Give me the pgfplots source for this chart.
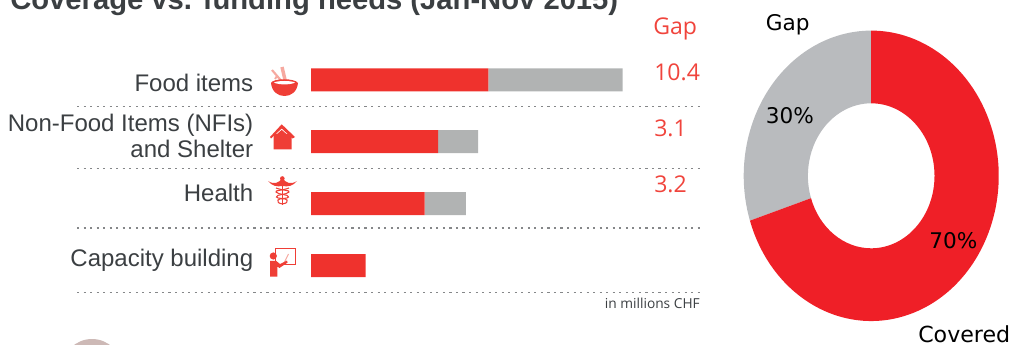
\documentclass[border=0pt]{standalone}
\usepackage{pgfplots}
\pgfplotsset{compat=1.18}
\usepackage{fontspec}
\setmainfont{Liberation Sans}
\newfontfamily\gapfont{Open Sans}
\newfontfamily\donutfont{DejaVu Sans}
\definecolor{barred}{HTML}{EF322D}
\definecolor{bargray}{HTML}{B1B3B3}
\definecolor{donutred}{HTML}{EF1F27}
\definecolor{donutgray}{HTML}{B9BBBE}
\definecolor{inkdark}{HTML}{3B3F42}
\definecolor{gapred}{HTML}{F0443C}
\definecolor{iconred}{HTML}{EF3E36}
\definecolor{iconpink}{HTML}{F6A9A0}
\definecolor{dotgray}{HTML}{858789}
\definecolor{badge}{HTML}{CDB9B6}
% one ring segment of the doughnut, angles in degrees
\newcommand{\ringsector}[3]{%
  \fill[#3] (axis cs:{cos(#1)},{sin(#1)})
    arc[start angle={#1},end angle={#2},x radius=95.625pt,y radius=108.9pt]
    -- (axis cs:{0.4965*cos(#2)},{0.4993*sin(#2)})
    arc[start angle={#2},end angle={#1},x radius=47.475pt,y radius=54.375pt]
    -- cycle;}
\newcommand{\lab}[2]{\fontsize{#1}{#1}\selectfont #2}
\begin{document}
\begin{tikzpicture}[x=0.75pt,y=-0.75pt]
\useasboundingbox (0,0) rectangle (1012,345);
\clip (0,0) rectangle (1012,345);

% heading
\node[anchor=base west,inner sep=0,text=inkdark] at (10,10)
  {\lab{21.9pt}{\bfseries Coverage vs. funding needs (Jan-Nov 2015)}};

% row separators
\foreach \yy in {106.7,168.3,228,292.3}
  \draw[dotgray,line width=1pt,dash pattern=on 1.6pt off 3.3pt] (77,\yy) -- (704,\yy);

% category names
\foreach \yy/\tt in {91.2/Food items,132/Non-Food Items (NFIs),157.6/and Shelter,202/Health,266/Capacity building}
  \node[anchor=base east,inner sep=0,text=inkdark] at (253.5,\yy) {\lab{18pt}{\tt}};

% covered and gap bars, in millions CHF
\begin{axis}[
  at={(233.25pt,-222.34pt)},anchor=south west,
  width=300pt,height=208.9pt,scale only axis,hide axis,clip=false,
  xbar stacked,bar width=17.25pt,
  xmin=0,xmax=31,ymin=-1,ymax=3.5,y dir=reverse]
\addplot[fill=barred,draw=none] coordinates {(13.75,0) (9.85,1) (8.8,2) (4.24,3)};
\addplot[fill=bargray,draw=none] coordinates {(10.4,0) (3.1,1) (3.2,2) (0,3)};
\end{axis}

% gap column
\node[anchor=base west,inner sep=0,text=gapred] at (653,34.8) {\gapfont\lab{17.3pt}{Gap}};
\foreach \yy/\tt in {81/10.4,136.7/3.1,192.7/3.2}
  \node[anchor=base west,inner sep=0,text=gapred] at (654,\yy) {\gapfont\lab{17.3pt}{\tt}};
\node[anchor=base east,inner sep=0,text=inkdark] at (700,308) {\gapfont\lab{10.3pt}{in millions CHF}};

% doughnut: gap 30, covered 70
\begin{axis}[
  at={(653.4pt,-131.85pt)},anchor=center,
  width=191.25pt,height=217.8pt,scale only axis,hide axis,clip=false,
  xmin=-1,xmax=1,ymin=-1,ymax=1]
\ringsector{90}{90+360*30/100}{donutgray}
\ringsector{90+360*30/100}{90+360}{donutred}
\end{axis}
\node[anchor=base west,inner sep=0] at (765.7,31) {\donutfont\lab{16.2pt}{Gap}};
\node[anchor=base west,inner sep=0] at (765.7,123.3) {\donutfont\lab{16.2pt}{30\%}};
\node[anchor=base west,inner sep=0] at (929,248) {\donutfont\lab{16.2pt}{70\%}};
\node[anchor=base west,inner sep=0] at (918,342.7) {\donutfont\lab{16.6pt}{Covered}};

% food icon: bowl with wheat ears
\draw[iconpink,line width=1.6pt] (284,84) -- (272,70);
\draw[iconpink,line width=1.4pt] (277,76) -- (275,79);
\draw[iconpink,line width=2.6pt] (286,84) -- (282,67);
\fill[iconred] (271,83) .. controls (273,78) and (295,78) .. (298,83)
  .. controls (297,92) and (291,96) .. (284.5,96)
  .. controls (278,96) and (272,92) .. (271,83) -- cycle;
\fill[white] (274,82.5) .. controls (278,85) and (291,85) .. (295,82.5)
  .. controls (291,80.5) and (278,80.5) .. (274,82.5) -- cycle;

% shelter icon
\fill[iconred] (281.7,124.3) -- (295,137) -- (292.5,138.5) -- (281.7,128.5)
  -- (271,138.5) -- (270,137) -- cycle;
\fill[iconred] (273.5,134) -- (277,134) -- (281.7,130) -- (286.5,134) -- (291.7,134)
  -- (291.7,149.3) -- (273.5,149.3) -- cycle;

% health icon: caduceus
\fill[iconred] (268,181) .. controls (274,185) and (279,183) .. (282.3,178)
  .. controls (285.5,183) and (291,185) .. (297,181)
  .. controls (293,186) and (288,187) .. (282.3,186)
  .. controls (277,187) and (272,186) .. (268,181) -- cycle;
\fill[iconred] (282.3,178.5) circle[radius=2.3];
\draw[iconred,line width=0.9pt] (282.3,180) -- (282.3,205);
\draw[iconred,line width=0.8pt] (276,188) .. controls (284,191) and (290,190) .. (289,192)
  .. controls (287,195) and (276,194) .. (276.5,197)
  .. controls (277,199) and (286,198) .. (287,200) .. controls (288,203) and (284,204) .. (282.3,204);
\draw[iconred,line width=0.8pt] (289,188) .. controls (281,191) and (275,190) .. (276,192)
  .. controls (278,195) and (289,194) .. (288.5,197)
  .. controls (288,199) and (279,198) .. (278,200) .. controls (277,203) and (281,204) .. (282.3,204);

% training icon: presenter and board
\draw[iconred,line width=0.5pt] (275,248) rectangle (295.7,264);
\draw[iconpink,line width=0.7pt] (284,263) -- (288.5,254);
\fill[iconred] (273.3,256) circle[radius=3.6];
\fill[iconred] (270,260.8) -- (276,260.8) -- (280,264) -- (287,260.5) -- (287.6,262.5)
  -- (279.5,268) -- (277.3,266.5) -- (277.3,276.7) -- (270,276.7) -- cycle;

% round badge cut by the lower edge
\fill[badge] (92,369) circle[radius=30];
\end{tikzpicture}
\end{document}
